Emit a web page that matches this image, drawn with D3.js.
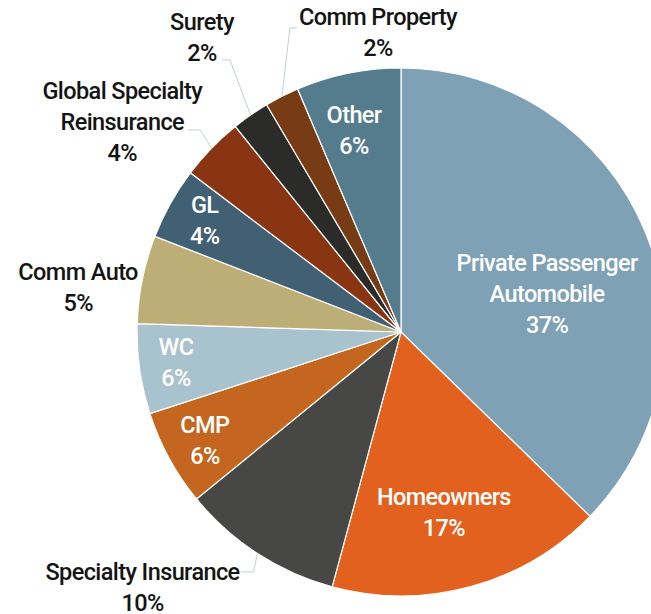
<!DOCTYPE html>
<html>
<head>
<meta charset="utf-8">
<script src="https://cdn.jsdelivr.net/npm/d3@7"></script>
<style>
  body { margin: 0; background: #fff; }
  text { font-family: "Liberation Sans Narrow", "Arial Narrow", Roboto, sans-serif; font-weight: 500; }
</style>
</head>
<body>
<div id="pie"></div>
<script>
// Data: share of premium by line, clockwise from 12 o'clock
const categories = ["Private Passenger\nAutomobile", "Homeowners", "Specialty Insurance", "CMP", "WC",
                    "Comm Auto", "GL", "Global Specialty\nReinsurance", "Surety", "Comm Property", "Other"];
const shares = [37.3, 16.9, 9.9, 5.9, 5.5, 5.4, 4.4, 3.9, 2.3, 2.1, 6.4];
const pctLabels = ["37%", "17%", "10%", "6%", "6%", "5%", "4%", "4%", "2%", "2%", "6%"];

const colors = ["#7fa1b6", "#e3611f", "#474745", "#c46520", "#a8c3cd",
                "#bdae78", "#426073", "#8a3511", "#2b2b29", "#773c14", "#547c8c"];

// label layout: polar position of label block (deg clockwise from top, radius px),
// whether it sits inside (white) and leader elbow offset from the label centre
const labelLayout = [
  {a: 75.4, r: 151, inside: true},
  {a: 166.6, r: 185, inside: true},
  {a: 225.4, r: 363, inside: false, leader: {ex: 111, ey: -15, tx: 98}},
  {a: 241.1, r: 224, inside: true},
  {a: 262.4, r: 227, inside: true},
  {a: 277.9, r: 326, inside: false},
  {a: 299.7, r: 226, inside: true},
  {a: 307.0, r: 349, inside: false, leader: {ex: 78, ey: 8, tx: 66}},
  {a: 326.0, r: 356, inside: false, leader: {ex: 28, ey: 23, tx: 20}},
  {a: 355.6, r: 301, inside: false, leader: {ex: -88, ey: -4, tx: -81}},
  {a: 346.9, r: 207, inside: true}
];

let width = 651, height = 614;
let cx = 401, cy = 332, radius = 264;
let lineH = 31;

let svg = d3.select("#pie")
            .append("svg")
            .attr("width", width)
            .attr("height", height);

let g = svg.append("g")
           .attr("transform", `translate(${cx},${cy})`);

const pie = d3.pie().sort(null).value(d => d)(shares);
const arc = d3.arc().innerRadius(0).outerRadius(radius);

// slices
g.selectAll("path.slice")
 .data(pie)
 .enter()
 .append("path")
 .attr("class", "slice")
 .attr("d", arc)
 .attr("fill", (d, i) => colors[i])
 .attr("stroke", "#ffffff")
 .attr("stroke-width", 1.2);

const polar = (deg, r) => {
  const t = deg * Math.PI / 180;
  return [r * Math.sin(t), -r * Math.cos(t)];
};

// leader lines
pie.forEach((d, i) => {
  const L = labelLayout[i];
  if (!L.leader) return;
  const mid = (d.startAngle + d.endAngle) / 2 * 180 / Math.PI;
  const p0 = polar(mid, radius);
  const c = polar(L.a, L.r);
  const elbow = [c[0] + L.leader.ex, c[1] + L.leader.ey];
  const tail = [c[0] + L.leader.tx, c[1] + L.leader.ey];
  g.append("polyline")
   .attr("points", [p0, elbow, tail].map(p => p.join(",")).join(" "))
   .attr("fill", "none")
   .attr("stroke", "#c3cfd8")
   .attr("stroke-width", 1);
});

// labels
pie.forEach((d, i) => {
  const L = labelLayout[i];
  const c = polar(L.a, L.r);
  const lines = categories[i].split("\n").concat([pctLabels[i]]);
  const top = c[1] - (lines.length - 1) * lineH / 2;
  lines.forEach((t, k) => {
    g.append("text")
     .attr("x", c[0])
     .attr("y", top + k * lineH)
     .attr("dy", "0.35em")
     .attr("text-anchor", "middle")
     .attr("font-size", 23.5)
     .attr("letter-spacing", -0.6)
     .attr("fill", L.inside ? "#ffffff" : "#141414")
     .text(t);
  });
});
</script>
</body>
</html>
